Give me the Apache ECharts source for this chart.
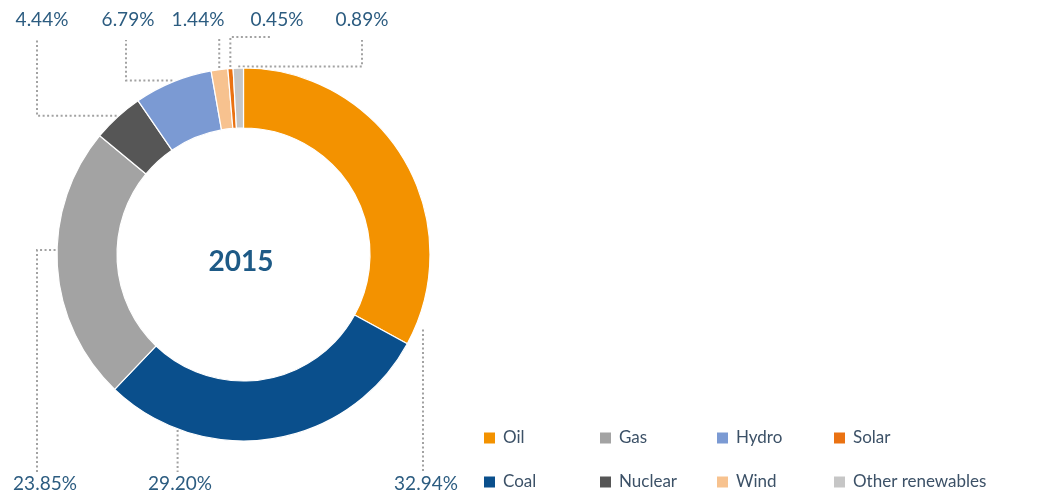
<!DOCTYPE html>
<html>
<head>
<meta charset="utf-8">
<title>Energy mix 2015</title>
<script src="https://cdn.jsdelivr.net/npm/echarts@6/dist/echarts.min.js"></script>
<style>
  html, body { margin: 0; padding: 0; background: #fff; }
  #chart { width: 1064px; height: 498px; }
</style>
</head>
<body>
<div id="chart"></div>
<script>
// Primary energy mix, 2015 (share of total, %)
const categories = ['Oil', 'Coal', 'Gas', 'Nuclear', 'Hydro', 'Wind', 'Solar', 'Other renewables'];
const shares = [32.94, 29.20, 23.85, 4.44, 6.79, 1.44, 0.45, 0.89];
const colors = ['#F39200', '#0A4F8C', '#A3A3A3', '#565656', '#7B9AD3', '#F7C28F', '#EA7212', '#C6C6C6'];
const yearLabel = '2015';

// Legend grid: columns left to right, each holding its top and bottom entry
const legendColumns = [
  ['Oil', 'Coal'],
  ['Gas', 'Nuclear'],
  ['Hydro', 'Wind'],
  ['Solar', 'Other renewables']
];

// Ring geometry
const CX = 243.5, CY = 254.5, R_IN = 126.5, R_OUT = 186.5;

// Legend grid placement
const LEGEND_COL_X = [482, 598, 715, 832];
const LEGEND_ROW_Y = [429, 473];

// Callout placement for each slice: text centre, where along the slice the
// leader starts (0..1), gap off the ring, and how the dotted leader is routed.
const callouts = [
  { tx: 426, ty: 484, frac: 0.95, gap: 8,   route: 'hv', lineX: null, endY: 472 }, // Oil
  { tx: 180, ty: 484, frac: 0.78, gap: 1,   route: 'hv', lineX: null, endY: 472 }, // Coal
  { tx: 45,  ty: 484, frac: 0.555, gap: 1.5, route: 'hv', lineX: 37,  endY: 472 }, // Gas
  { tx: 42,  ty: 20,  frac: 0.5, gap: 1.5, route: 'hv', lineX: 37,  endY: 40 },   // Nuclear
  { tx: 128, ty: 20,  frac: 0.5, gap: 1.5, route: 'hv', lineX: 126, endY: 40 },   // Hydro
  { tx: 198, ty: 20,  frac: 0.5, gap: 1.5, route: 'hv', lineX: null, endY: 37 },  // Wind
  { tx: 277, ty: 20,  frac: 0.5, gap: 1.5, route: 'vh', lineX: 270, endY: 37 },   // Solar
  { tx: 362, ty: 20,  frac: 0.5, gap: 1.5, route: 'hv', lineX: 362, endY: 40 }    // Other renewables
];

const total = shares.reduce((a, b) => a + b, 0);
const startFrac = [];
shares.reduce((acc, v, i) => { startFrac[i] = acc; return acc + v / total; }, 0);

function anchorPoint(i) {
  const c = callouts[i];
  const f = startFrac[i] + c.frac * shares[i] / total;
  const ang = f * Math.PI * 2; // clockwise from 12 o'clock
  const r = R_OUT + c.gap;
  return [CX + Math.sin(ang) * r, CY - Math.cos(ang) * r];
}

function leaderPoints(i) {
  const c = callouts[i];
  const a = anchorPoint(i);
  const lx = c.lineX == null ? a[0] : c.lineX;
  if (c.route === 'vh') {
    return [a, [a[0], c.endY], [lx, c.endY]];
  }
  return [a, [lx, a[1]], [lx, c.endY]];
}

const chart = echarts.init(document.getElementById('chart'), null, { renderer: 'canvas' });

// One legend component per entry so the columns line up on a fixed grid
const legends = [];
legendColumns.forEach((col, k) => {
  col.forEach((name, row) => {
    legends.push({
      orient: 'horizontal',
      left: LEGEND_COL_X[k],
      top: LEGEND_ROW_Y[row],
      padding: 0,
      itemWidth: 13,
      itemHeight: 13,
      itemGap: 0,
      icon: 'rect',
      selectedMode: false,
      data: [name],
      textStyle: {
        fontFamily: 'Lato',
        fontSize: 17,
        lineHeight: 18,
        color: '#3C5167',
        padding: [0, 0, 0, 2]
      }
    });
  });
});

chart.setOption({
  animation: false,
  backgroundColor: '#ffffff',
  color: colors,
  title: {
    text: yearLabel,
    left: 236,
    top: 257,
    textAlign: 'center',
    textVerticalAlign: 'middle',
    textStyle: {
      fontFamily: 'Lato',
      fontWeight: 'bold',
      fontSize: 28,
      color: '#1E5A86'
    }
  },
  legend: legends,
  series: [{
    type: 'pie',
    center: [CX, CY],
    radius: [R_IN, R_OUT],
    startAngle: 90,
    clockwise: true,
    avoidLabelOverlap: false,
    itemStyle: { borderColor: '#ffffff', borderWidth: 1.2 },
    emphasis: { disabled: true },
    data: categories.map((name, i) => ({ name, value: shares[i] })),
    label: {
      show: true,
      position: 'outside',
      formatter: (p) => shares[p.dataIndex].toFixed(2) + '%',
      fontFamily: 'Lato',
      fontSize: 19,
      color: '#2C5C80'
    },
    labelLine: {
      show: true,
      lineStyle: { color: '#A2A2A2', width: 2, type: [2, 2.5] }
    },
    labelLayout: (params) => {
      const i = params.dataIndex;
      const c = callouts[i];
      return {
        x: c.tx,
        y: c.ty,
        align: 'center',
        verticalAlign: 'middle',
        labelLinePoints: leaderPoints(i)
      };
    }
  }]
});
</script>
</body>
</html>
